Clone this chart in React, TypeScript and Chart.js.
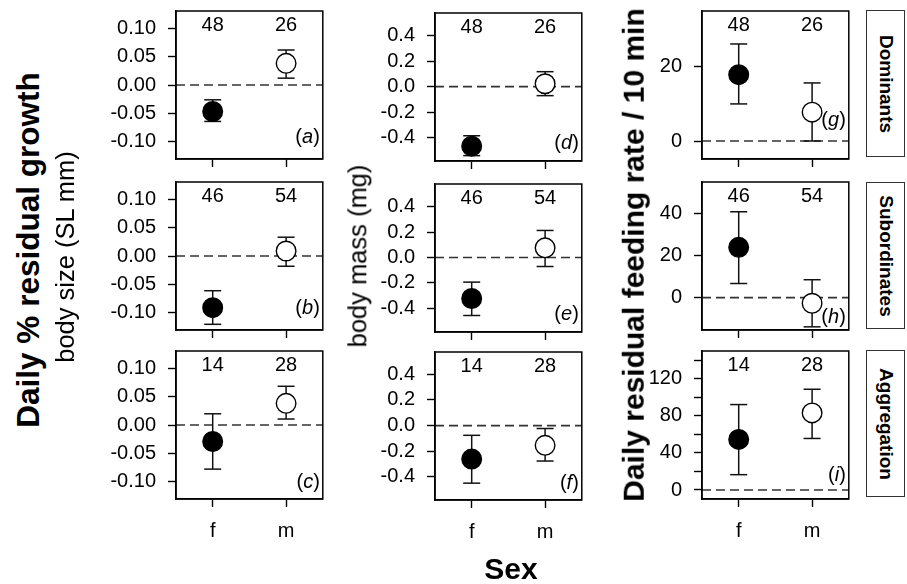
import React, { useEffect, useRef } from 'react';
import { Chart, registerables } from 'chart.js';

Chart.register(...registerables);

const FONT = '"Liberation Sans", Arial, Helvetica, sans-serif';

// ---------- data ----------
const sexCategories = ['f', 'm'];
const sexPositions = [1, 2];

const groupNames = ['Dominants', 'Subordinates', 'Aggregation'];
const countsDominants = [48, 26];
const countsSubordinates = [46, 54];
const countsAggregation = [14, 28];

// body size (SL mm) residual growth
const sizeDomMean = [-0.0465, 0.038];
const sizeDomLow = [-0.064, 0.012];
const sizeDomHigh = [-0.026, 0.0615];
const sizeSubMean = [-0.0907, 0.0088];
const sizeSubLow = [-0.12, -0.018];
const sizeSubHigh = [-0.061, 0.033];
const sizeAggMean = [-0.029, 0.038];
const sizeAggLow = [-0.0775, 0.0105];
const sizeAggHigh = [0.0197, 0.068];

// body mass (mg) residual growth
const massDomMean = [-0.464, 0.023];
const massDomLow = [-0.538, -0.07];
const massDomHigh = [-0.383, 0.117];
const massSubMean = [-0.323, 0.076];
const massSubLow = [-0.457, -0.071];
const massSubHigh = [-0.194, 0.213];
const massAggMean = [-0.261, -0.154];
const massAggLow = [-0.448, -0.276];
const massAggHigh = [-0.076, -0.023];

// feeding rate
const feedDomMean = [17.7, 7.7];
const feedDomLow = [9.9, 0];
const feedDomHigh = [25.9, 15.5];
const feedSubMean = [23.9, -2.7];
const feedSubLow = [6.7, -13.9];
const feedSubHigh = [40.8, 8.5];
const feedAggMean = [54.5, 83];
const feedAggLow = [16.5, 55.5];
const feedAggHigh = [92, 108.5];

// ticks
const sizeTicks = [-0.1, -0.05, 0, 0.05, 0.1];
const massTicks = [-0.4, -0.2, 0, 0.2, 0.4];
const feedDomTicks = [0, 20];
const feedSubTicks = [0, 20, 40];
const feedAggTicks = [0, 20, 40, 60, 80, 100, 120, 140];
const feedAggLabelled = [0, 40, 80, 120];

const panelLetters = ['a', 'b', 'c', 'd', 'e', 'f', 'g', 'h', 'i'];

// ---------- layout ----------
const BOX_W = 154;
const BOX_H = 148;
const PAD_L = 90;
const PAD_T = 30;
const PAD_R = 4;
const colLeft = [176, 435, 702];
const rowTops = [
  [11, 182, 351],
  [13, 184, 352],
  [11, 182, 351],
];
const letterOffsets = [
  [22, 22, 17],
  [18, 18, 17],
  [39, 13, 24],
];
const yRanges = [
  [[-0.13, 0.13], [-0.13, 0.13], [-0.13, 0.13]],
  [[-0.58, 0.575], [-0.587, 0.579], [-0.579, 0.572]],
  [[-4.8, 34.7], [-15.4, 54.95], [-9.7, 149.7]],
];

type PanelProps = {
  left: number;
  top: number;
  yMin: number;
  yMax: number;
  ticks: number[];
  fmt: (v: number) => string;
  means: number[];
  lows: number[];
  highs: number[];
  counts: number[];
  letter: string;
  letterOffset: number;
  showX: boolean;
};

function Panel(p: PanelProps) {
  const ref = useRef<HTMLCanvasElement>(null);
  const bottomH = p.showX ? 60 : 12;
  const cw = PAD_L + BOX_W + PAD_R;
  const ch = PAD_T + BOX_H + bottomH;

  useEffect(() => {
    const canvas = ref.current;
    if (!canvas) return;
    const deco = {
      id: 'panelDeco',
      afterDraw(chart: any) {
        const { ctx, chartArea } = chart;
        const xs = chart.scales.x;
        ctx.save();
        ctx.strokeStyle = '#000';
        ctx.lineWidth = 1.5;
        ctx.strokeRect(chartArea.left, chartArea.top, chartArea.right - chartArea.left, chartArea.bottom - chartArea.top);
        ctx.fillStyle = '#000';
        ctx.font = `20px ${FONT}`;
        ctx.textAlign = 'center';
        ctx.textBaseline = 'middle';
        p.counts.forEach((n, i) => {
          ctx.fillText(String(n), xs.getPixelForValue(sexPositions[i]), chartArea.top + 14.5);
        });
        // panel letter "(x)" with italic letter
        const y = chartArea.bottom - p.letterOffset;
        let x = chartArea.right - 3;
        ctx.textAlign = 'right';
        ctx.font = `20px ${FONT}`;
        ctx.fillText(')', x, y);
        x -= ctx.measureText(')').width;
        ctx.font = `italic 20px ${FONT}`;
        ctx.fillText(p.letter, x, y);
        x -= ctx.measureText(p.letter).width;
        ctx.font = `20px ${FONT}`;
        ctx.fillText('(', x, y);
        ctx.restore();
      },
    };

    const gridOpts = {
      drawOnChartArea: false,
      drawTicks: true,
      tickLength: 8,
      tickColor: '#000',
      tickWidth: 1.4,
      color: '#000',
    };
    const zeroPad = (s: any) => {
      s.paddingTop = 0;
      s.paddingBottom = 0;
      s.paddingLeft = 0;
      s.paddingRight = 0;
    };

    const chart = new Chart(canvas, {
      type: 'line',
      data: {
        datasets: [
          {
            data: p.means.map((y, i) => ({ x: sexPositions[i], y })),
            showLine: false,
            pointRadius: 9.8,
            pointBackgroundColor: ['#000', '#fff'],
            pointBorderColor: '#000',
            pointBorderWidth: 1.4,
            order: 0,
            clip: false,
          },
          ...sexPositions.map((x, i) => ({
            data: [
              { x, y: p.lows[i] },
              { x, y: p.highs[i] },
            ],
            borderColor: '#111',
            borderWidth: 1.5,
            pointStyle: 'line',
            pointRadius: 8.5,
            pointBorderColor: '#111',
            pointBorderWidth: 1.5,
            order: 1,
            clip: false,
          })),
          {
            data: [
              { x: 0.5, y: 0 },
              { x: 2.5, y: 0 },
            ],
            borderColor: '#333',
            borderWidth: 1.7,
            borderDash: [9, 5],
            pointRadius: 0,
            order: 2,
          },
        ] as any,
      },
      options: {
        animation: false,
        responsive: false,
        maintainAspectRatio: false,
        events: [],
        layout: { padding: { left: 0, top: PAD_T, right: PAD_R, bottom: 0 } },
        plugins: { legend: { display: false }, tooltip: { enabled: false }, title: { display: false } },
        scales: {
          x: {
            type: 'linear',
            min: 0.5,
            max: 2.5,
            afterBuildTicks: (s: any) => {
              s.ticks = sexPositions.map((v) => ({ value: v }));
            },
            afterFit: (s: any) => {
              s.height = bottomH;
              zeroPad(s);
            },
            grid: gridOpts,
            border: { display: true, color: '#000', width: 1.5 },
            ticks: {
              display: p.showX,
              autoSkip: false,
              maxRotation: 0,
              padding: 12,
              color: '#000',
              font: { family: FONT, size: 20 },
              callback: (v: any) => sexCategories[sexPositions.indexOf(Number(v))] ?? '',
            },
          },
          y: {
            type: 'linear',
            min: p.yMin,
            max: p.yMax,
            afterBuildTicks: (s: any) => {
              s.ticks = p.ticks.map((v) => ({ value: v }));
            },
            afterFit: (s: any) => {
              s.width = PAD_L;
              zeroPad(s);
            },
            grid: gridOpts,
            border: { display: true, color: '#000', width: 1.5 },
            ticks: {
              autoSkip: false,
              padding: 12,
              color: '#000',
              font: { family: FONT, size: 20 },
              callback: (v: any) => p.fmt(Number(v)),
            },
          },
        },
      } as any,
      plugins: [deco],
    });
    return () => chart.destroy();
  }, []);

  return (
    <canvas
      ref={ref}
      width={cw}
      height={ch}
      style={{
        position: 'absolute',
        left: p.left - PAD_L,
        top: p.top - PAD_T,
        width: cw,
        height: ch,
        display: 'block',
      }}
    />
  );
}

const fmt2 = (v: number) => v.toFixed(2);
const fmt1 = (v: number) => v.toFixed(1);
const fmtAgg = (v: number) => (feedAggLabelled.includes(v) ? String(v) : '');
const fmt0 = (v: number) => String(v);

const counts = [countsDominants, countsSubordinates, countsAggregation];
const columns = [
  {
    ticks: [sizeTicks, sizeTicks, sizeTicks],
    fmt: [fmt2, fmt2, fmt2],
    means: [sizeDomMean, sizeSubMean, sizeAggMean],
    lows: [sizeDomLow, sizeSubLow, sizeAggLow],
    highs: [sizeDomHigh, sizeSubHigh, sizeAggHigh],
  },
  {
    ticks: [massTicks, massTicks, massTicks],
    fmt: [fmt1, fmt1, fmt1],
    means: [massDomMean, massSubMean, massAggMean],
    lows: [massDomLow, massSubLow, massAggLow],
    highs: [massDomHigh, massSubHigh, massAggHigh],
  },
  {
    ticks: [feedDomTicks, feedSubTicks, feedAggTicks],
    fmt: [fmt0, fmt0, fmtAgg],
    means: [feedDomMean, feedSubMean, feedAggMean],
    lows: [feedDomLow, feedSubLow, feedAggLow],
    highs: [feedDomHigh, feedSubHigh, feedAggHigh],
  },
];

function Rot({ text, cx, cy, size, bold, deg }: { text: string; cx: number; cy: number; size: number; bold?: boolean; deg: number }) {
  return (
    <div
      style={{
        position: 'absolute',
        left: cx,
        top: cy,
        transform: `translate(-50%, -50%) rotate(${deg}deg)`,
        whiteSpace: 'nowrap',
        fontFamily: FONT,
        fontSize: size,
        fontWeight: bold ? 'bold' : 'normal',
        lineHeight: 1.15,
        color: '#000',
      }}
    >
      {text}
    </div>
  );
}

export default function App() {
  const stripTops = [10, 182, 350];
  return (
    <div style={{ position: 'absolute', left: 0, top: 0, width: 907, height: 584, background: '#fff', overflow: 'hidden' }}>
      {columns.map((col, c) =>
        [0, 1, 2].map((r) => (
          <Panel
            key={`${c}-${r}`}
            left={colLeft[c]}
            top={rowTops[c][r]}
            yMin={yRanges[c][r][0]}
            yMax={yRanges[c][r][1]}
            ticks={col.ticks[r]}
            fmt={col.fmt[r]}
            means={col.means[r]}
            lows={col.lows[r]}
            highs={col.highs[r]}
            counts={counts[r]}
            letter={panelLetters[c * 3 + r]}
            letterOffset={letterOffsets[c][r]}
            showX={r === 2}
          />
        ))
      )}
      {groupNames.map((g, r) => (
        <div
          key={g}
          style={{
            position: 'absolute',
            left: 866,
            top: stripTops[r],
            width: 39,
            height: 147,
            border: '1px solid #333',
            boxSizing: 'border-box',
            background: '#fff',
          }}
        >
          <Rot text={g} cx={19} cy={73} size={19} bold deg={90} />
        </div>
      ))}
      <Rot text="Daily % residual growth" cx={28} cy={250} size={31.5} bold deg={-90} />
      <Rot text="body size (SL mm)" cx={66} cy={257} size={25.5} deg={-90} />
      <Rot text="body mass (mg)" cx={358} cy={256} size={25.5} deg={-90} />
      <Rot text="Daily residual feeding rate / 10 min" cx={634} cy={255} size={30} bold deg={-90} />
      <Rot text="Sex" cx={511} cy={569} size={30} bold deg={0} />
    </div>
  );
}
